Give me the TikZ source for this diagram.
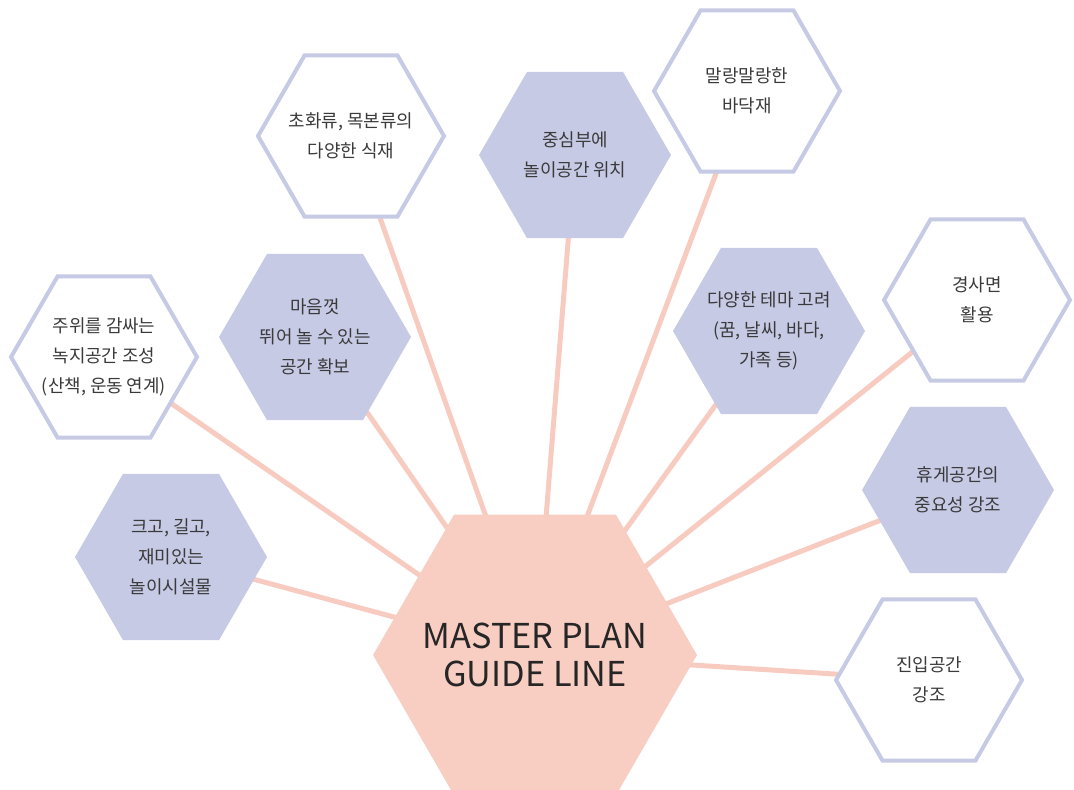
\documentclass[tikz,border=0pt]{standalone}
\usepackage{fontspec}
\setmainfont{Noto Sans CJK KR}
\usepackage{xcolor}
\usetikzlibrary{shapes.geometric, backgrounds}
\definecolor{lavender}{HTML}{C6CAE5}
\definecolor{peach}{HTML}{F8CDC2}
\definecolor{linkpeach}{HTML}{F7CBBF}
\definecolor{textgray}{HTML}{3A3A3A}
\tikzset{
    % negative inner sep: the text never makes the hexagon grow
    hexfill/.style={regular polygon, regular polygon sides=6, minimum size=3.84cm, inner sep=-0.6cm,
        fill=lavender, text=textgray, align=center, font=\fontsize{10.2}{17}\selectfont},
    hexline/.style={hexfill, minimum size=3.72cm, fill=white, draw=lavender, line width=0.08cm},
    hexmain/.style={regular polygon, regular polygon sides=6, minimum size=6.48cm, inner sep=0pt,
        fill=peach},
    title/.style={text=black!85, align=center, font=\fontsize{19.5}{22}\selectfont},
    link/.style={draw=linkpeach, line width=0.1cm},
}

\begin{document}
\begin{tikzpicture}[x=0.02cm, y=-0.02cm]
    \useasboundingbox (0,0) rectangle (1074,789);

    \node[hexmain] (master) at (535,655) {};
    \node[title] (mastertext) at (master.center) {MASTER PLAN\\GUIDE LINE};

    \node[hexfill] (play)   at (171,557) {크고, 길고,\\재미있는\\놀이시설물};
    \node[hexline] (green)  at (104,357) {주위를 감싸는\\녹지공간 조성\\(산책, 운동 연계)};
    \node[hexfill] (run)    at (315,337) {마음껏\\뛰어 놀 수 있는\\공간 확보};
    \node[hexline] (plant)  at (351,136) {초화류, 목본류의\\다양한 식재};
    \node[hexfill] (core)   at (575,155) {중심부에\\놀이공간 위치};
    \node[hexline] (floor)  at (747,91)  {말랑말랑한\\바닥재};
    \node[hexfill] (theme)  at (769,331) {다양한 테마 고려\\(꿈, 날씨, 바다,\\가족 등)};
    \node[hexline] (slope)  at (977,300) {경사면\\활용};
    \node[hexfill] (rest)   at (958,490) {휴게공간의\\중요성 강조};
    \node[hexline] (entry)  at (929,680) {진입공간\\강조};

    % connectors go behind the hexagons
    \begin{scope}[on background layer]
        \foreach \n in {play, green, run, plant, core, floor, theme, slope, rest, entry}
            \draw[link] (\n.center) -- (master.center);
    \end{scope}
\end{tikzpicture}
\end{document}
